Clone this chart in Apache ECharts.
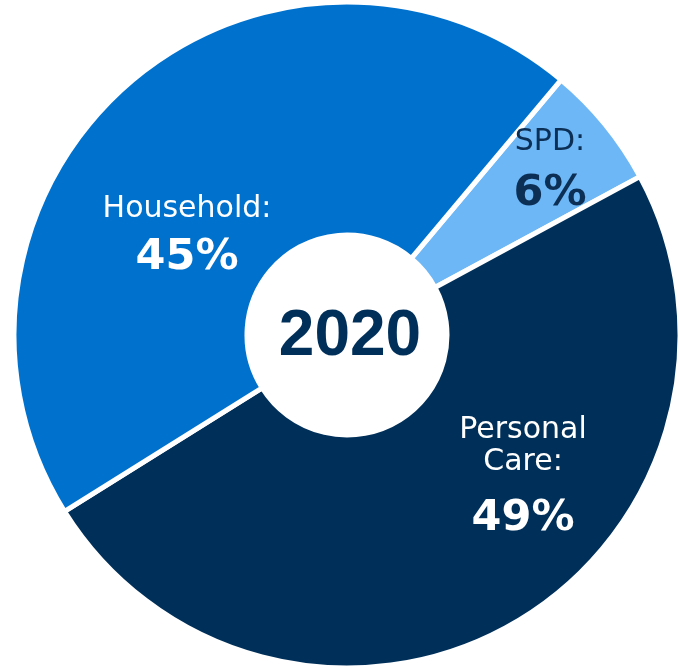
<!DOCTYPE html>
<html>
<head>
<meta charset="utf-8">
<script src="https://cdn.jsdelivr.net/npm/echarts@6/dist/echarts.min.js"></script>
<style>
  html, body { margin: 0; padding: 0; background: #ffffff; }
  #chart { width: 679px; height: 668px; }
</style>
</head>
<body>
<div id="chart"></div>
<script>
// Segment shares for the year shown in the centre
const yearLabel = '2020';
const segments = ['SPD', 'Personal Care', 'Household'];
const shares = [6, 49, 45];
const labelLines = [['SPD:'], ['Personal', 'Care:'], ['Household:']];

const sliceColors = ['#6DB7F7', '#00305A', '#0072CE'];
const labelColors = ['#0B2F55', '#ffffff', '#ffffff'];
// label block centre (px) and line heights for name / value rows
const labelCenters = [[550, 177], [523, 487], [187, 241]];
const nameLineHeights = [34, 32, 34];
const valueLineHeights = [70, 82, 64];

const chart = echarts.init(document.getElementById('chart'), null, { renderer: 'canvas' });

const rich = {};
segments.forEach((s, i) => {
  rich['n' + i] = { fontFamily: 'DejaVu Sans', fontSize: 30, lineHeight: nameLineHeights[i], align: 'center' };
  rich['v' + i] = { fontFamily: 'DejaVu Sans', fontWeight: 'bold', fontSize: 43, lineHeight: valueLineHeights[i], align: 'center' };
});

const data = segments.map((name, i) => ({
  name: name,
  value: shares[i],
  itemStyle: { color: sliceColors[i] },
  label: { color: labelColors[i] }
}));

chart.setOption({
  animation: false,
  backgroundColor: '#ffffff',
  series: [{
    type: 'pie',
    center: [347, 335],
    radius: [100, 333],
    startAngle: 50,
    clockwise: true,
    silent: true,
    data: data,
    itemStyle: { borderColor: '#ffffff', borderWidth: 5 },
    label: {
      show: true,
      position: 'inside',
      align: 'center',
      formatter: p => {
        const i = p.dataIndex;
        const lines = labelLines[i].map(t => '{n' + i + '|' + t + '}');
        lines.push('{v' + i + '|' + p.value + '%}');
        return lines.join('\n');
      },
      rich: rich
    },
    labelLine: { show: false },
    labelLayout: p => ({
      x: labelCenters[p.dataIndex][0],
      y: labelCenters[p.dataIndex][1],
      align: 'center',
      verticalAlign: 'middle'
    })
  }],
  graphic: [{
    type: 'text',
    silent: true,
    style: {
      text: yearLabel,
      x: 350,
      y: 337,
      align: 'center',
      verticalAlign: 'middle',
      fontFamily: 'Liberation Sans',
      fontWeight: 'bold',
      fontSize: 64,
      fill: '#00305A'
    }
  }]
});
</script>
</body>
</html>
